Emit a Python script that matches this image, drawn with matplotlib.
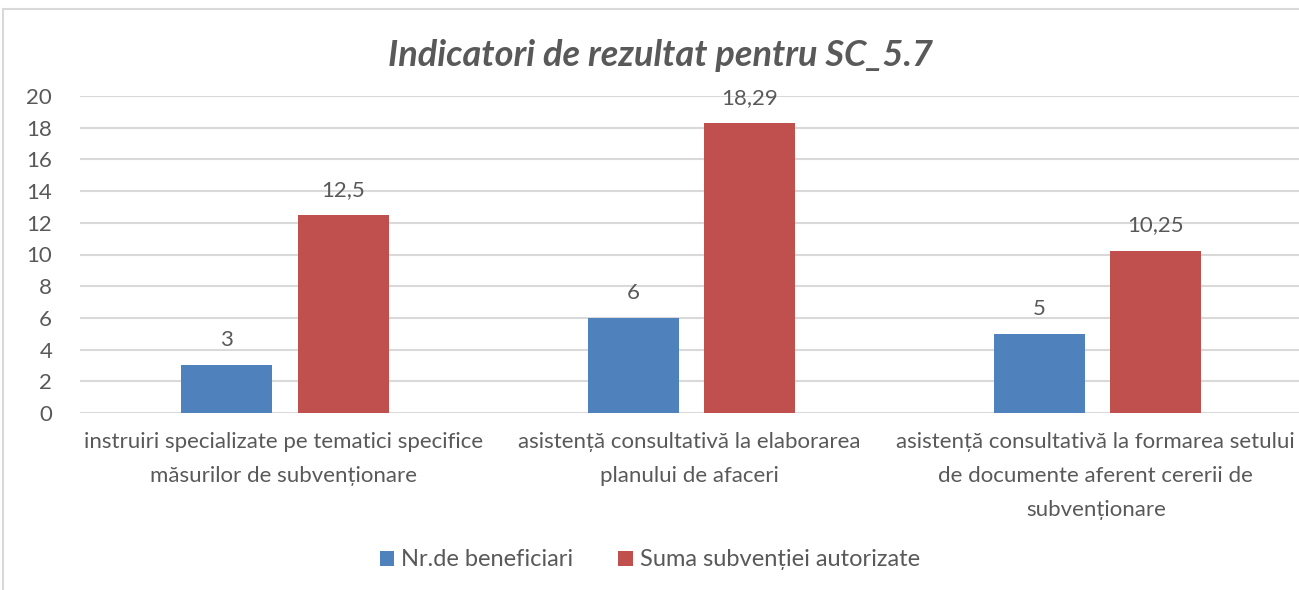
import numpy as np
import matplotlib.pyplot as plt
from matplotlib.patches import Rectangle

categories = ['instruiri specializate pe tematici specifice\nmăsurilor de subvenționare',
              'asistență consultativă la elaborarea\nplanului de afaceri',
              'asistență consultativă la formarea setului\nde documente aferent cererii de\nsubvenționare']
beneficiari = [3, 6, 5]
suma = [12.5, 18.29, 10.25]
labels_b = ['3', '6', '5']
labels_s = ['12,5', '18,29', '10,25']
series = ['Nr.de beneficiari', 'Suma subvenției autorizate']

grey = '#595959'
plt.rcParams['font.family'] = ['Lato', 'DejaVu Sans']

f = plt.figure(figsize=(12.99, 5.9), dpi=100)
f.patches.append(Rectangle((3/1299, -0.1), 1.2, 1 - 9/590 + 0.1, transform=f.transFigure,
                           fill=False, edgecolor='#d9d9d9', lw=1.5))
ax = f.add_axes([80/1299, 1 - 413/590, 1 - 80/1299, (413 - 96)/590])

x = np.arange(len(categories))
w = 0.224
b1 = ax.bar(x - 0.139, beneficiari, w, color='#4f81bd', label=series[0], zorder=3)
b2 = ax.bar(x + 0.148, suma, w, color='#c0504d', label=series[1], zorder=3)
for rect, t in zip(b1, labels_b):
    ax.text(rect.get_x() + rect.get_width()/2, rect.get_height() + 0.95, t,
            ha='center', va='bottom', fontsize=16, color=grey)
for rect, t in zip(b2, labels_s):
    ax.text(rect.get_x() + rect.get_width()/2, rect.get_height() + 0.95, t,
            ha='center', va='bottom', fontsize=16, color=grey)

ax.set_xlim(-0.5, 2.5)
ax.set_ylim(0, 20)
ax.set_yticks(range(0, 21, 2))
ax.yaxis.grid(True, color='#d9d9d9', lw=1.5, zorder=0)
ax.set_xticks(x)
ax.set_xticklabels(categories, fontsize=16, color=grey, linespacing=1.85, va='top')
ax.tick_params(axis='both', length=0, labelsize=16, labelcolor=grey)
ax.tick_params(axis='x', pad=14)
ax.tick_params(axis='y', pad=20)
for s in ax.spines.values():
    s.set_visible(False)

f.text(661/1299, 1 - 55/590, 'Indicatori de rezultat pentru SC_5.7', ha='center', va='center',
       fontsize=26, style='italic', fontweight='bold', color=grey)

f.legend(handles=[b1, b2], labels=series, loc='center', bbox_to_anchor=(650/1299, 1 - 560/590),
         ncol=2, frameon=False, fontsize=17, labelcolor=grey, handlelength=0.6, handleheight=0.6,
         columnspacing=1.9, handletextpad=0.3)

f.savefig('out.png', dpi=100)
